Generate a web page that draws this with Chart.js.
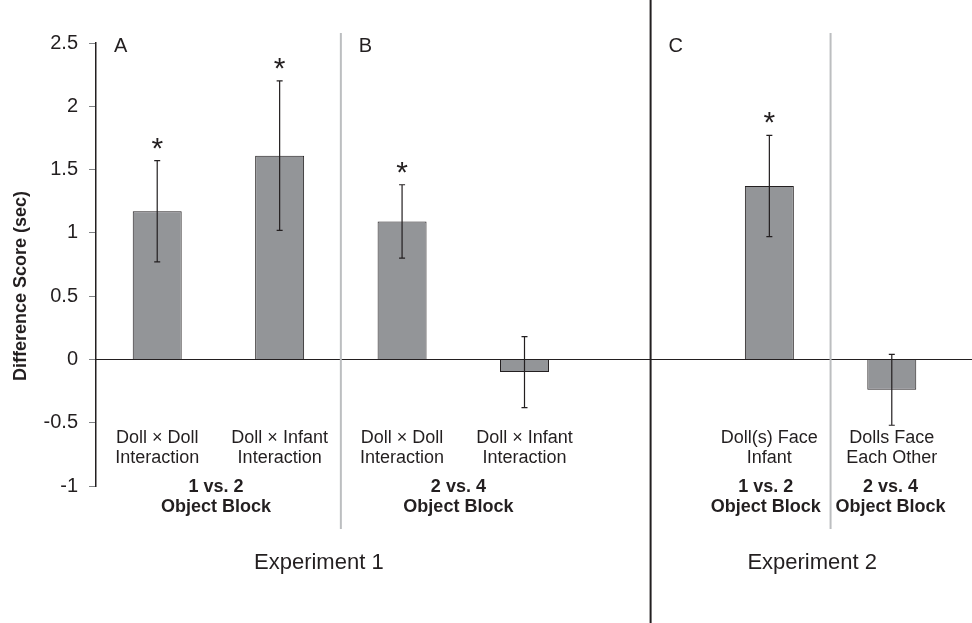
<!DOCTYPE html>
<html>
<head>
<meta charset="utf-8">
<script src="https://cdn.jsdelivr.net/npm/chart.js@4.4.0/dist/chart.umd.min.js"></script>
<style>
  body { margin: 0; background: #fff; }
  #wrap { width: 972px; height: 623px; }
</style>
</head>
<body>
<div id="wrap"><canvas id="myChart"></canvas></div>
<script>
// data ---------------------------------------------
const categories = [
  ["Doll \u00d7 Doll", "Interaction"],
  ["Doll \u00d7 Infant", "Interaction"],
  ["Doll \u00d7 Doll", "Interaction"],
  ["Doll \u00d7 Infant", "Interaction"],
  ["", ""],
  ["Doll(s) Face", "Infant"],
  ["Dolls Face", "Each Other"],
];
const diffScores = [1.17, 1.61, 1.09, -0.1, null, 1.37, -0.24];
const errorSizes = [0.4, 0.59, 0.29, 0.28, null, 0.4, 0.28];
const significant = [true, true, true, false, false, true, false];
const yTicks = [-1, -0.5, 0, 0.5, 1, 1.5, 2, 2.5];

const blockLabels = [
  ["1 vs. 2", "Object Block"],
  ["2 vs. 4", "Object Block"],
  ["1 vs. 2", "Object Block"],
  ["2 vs. 4", "Object Block"],
];
const blockAt = [0.48, 2.46, 4.97, 5.99];
const panelLetters = ["A", "B", "C"];
const panelStart = [-0.5, 1.5, 4.03];
const experiments = ["Experiment 1", "Experiment 2"];
const experimentAt = [1.32, 5.35];

const FONT = "'Liberation Sans', Arial, Helvetica, sans-serif";
const INK = "#231f20";

// overlay: dividers, error bars, texts ---------------------------------------------
const overlay = {
  id: "overlay",
  afterDatasetsDraw(chart) {
    const ctx = chart.ctx;
    const xs = chart.scales.x;
    const ys = chart.scales.y;
    const area = chart.chartArea;
    const xAt = (v) => xs.getPixelForValue(v);
    ctx.save();

    // zero line
    const zeroY = Math.round(ys.getPixelForValue(0)) + 0.5;
    ctx.strokeStyle = INK;
    ctx.lineWidth = 1;
    ctx.beginPath();
    ctx.moveTo(area.left, zeroY);
    ctx.lineTo(chart.width, zeroY);
    ctx.stroke();

    // gray dividers inside each experiment
    ctx.strokeStyle = "#bcbec0";
    ctx.lineWidth = 2;
    [1.5, 5.5].forEach((p) => {
      ctx.beginPath();
      ctx.moveTo(xAt(p), area.top - 10);
      ctx.lineTo(xAt(p), area.bottom + 43);
      ctx.stroke();
    });

    // black divider between experiments
    ctx.strokeStyle = INK;
    ctx.lineWidth = 2;
    ctx.beginPath();
    ctx.moveTo(xAt(4.03), 0);
    ctx.lineTo(xAt(4.03), chart.height);
    ctx.stroke();

    // error bars and stars
    ctx.lineWidth = 1.2;
    diffScores.forEach((v, i) => {
      if (v === null) return;
      const cx = xAt(i);
      const top = ys.getPixelForValue(v + errorSizes[i]);
      const bot = ys.getPixelForValue(v - errorSizes[i]);
      ctx.beginPath();
      ctx.moveTo(cx, top);
      ctx.lineTo(cx, bot);
      ctx.moveTo(cx - 3, top);
      ctx.lineTo(cx + 3, top);
      ctx.moveTo(cx - 3, bot);
      ctx.lineTo(cx + 3, bot);
      ctx.stroke();
      if (significant[i]) {
        ctx.fillStyle = INK;
        ctx.font = "30px " + FONT;
        ctx.textAlign = "center";
        ctx.textBaseline = "alphabetic";
        ctx.fillText("*", cx, top - 3);
      }
    });

    ctx.fillStyle = INK;
    ctx.textAlign = "center";
    ctx.textBaseline = "middle";

    // category labels
    ctx.font = "18px " + FONT;
    categories.forEach((c, i) => {
      ctx.fillText(c[0], xAt(i), area.bottom - 48);
      ctx.fillText(c[1], xAt(i), area.bottom - 28);
    });

    // block labels
    ctx.font = "bold 18px " + FONT;
    blockLabels.forEach((b, i) => {
      ctx.fillText(b[0], xAt(blockAt[i]), area.bottom + 1);
      ctx.fillText(b[1], xAt(blockAt[i]), area.bottom + 21);
    });

    // experiment labels
    ctx.font = "22px " + FONT;
    experiments.forEach((e, i) => {
      ctx.fillText(e, xAt(experimentAt[i]), area.bottom + 77);
    });

    // panel letters
    ctx.font = "20px " + FONT;
    ctx.textAlign = "left";
    panelLetters.forEach((l, i) => {
      ctx.fillText(l, xAt(panelStart[i]) + 18, area.top + 3);
    });

    // y title
    ctx.font = "bold 18px " + FONT;
    ctx.textAlign = "center";
    ctx.translate(21, 286);
    ctx.rotate(-Math.PI / 2);
    ctx.fillText("Difference Score (sec)", 0, 0);

    ctx.restore();
  },
};

// chart ---------------------------------------------
const ctx = document.getElementById("myChart").getContext("2d");
const myChart = new Chart(ctx, {
  type: "bar",
  data: {
    labels: categories.map((c) => c.join(" ")),
    datasets: [
      {
        data: diffScores,
        backgroundColor: "#939598",
        borderColor: INK,
        borderWidth: 1,
        barPercentage: 0.4,
        categoryPercentage: 1.0,
      },
    ],
  },
  options: {
    responsive: true,
    maintainAspectRatio: false,
    animation: false,
    layout: { padding: { top: 43, right: 19, bottom: 137, left: 0 } },
    plugins: { legend: { display: false }, tooltip: { enabled: false } },
    scales: {
      x: { display: false },
      y: {
        min: -1,
        max: 2.5,
        afterFit(s) {
          s.width = 96;
        },
        afterBuildTicks(s) {
          s.ticks = yTicks.map((v) => ({ value: v }));
        },
        ticks: {
          callback: (v) => String(v),
          font: { family: FONT, size: 20 },
          color: INK,
          padding: 11,
        },
        grid: { drawOnChartArea: false, drawTicks: true, tickLength: 7, color: "#808285" },
        border: { color: INK, width: 1.5 },
      },
    },
  },
  plugins: [overlay],
});
</script>
</body>
</html>
